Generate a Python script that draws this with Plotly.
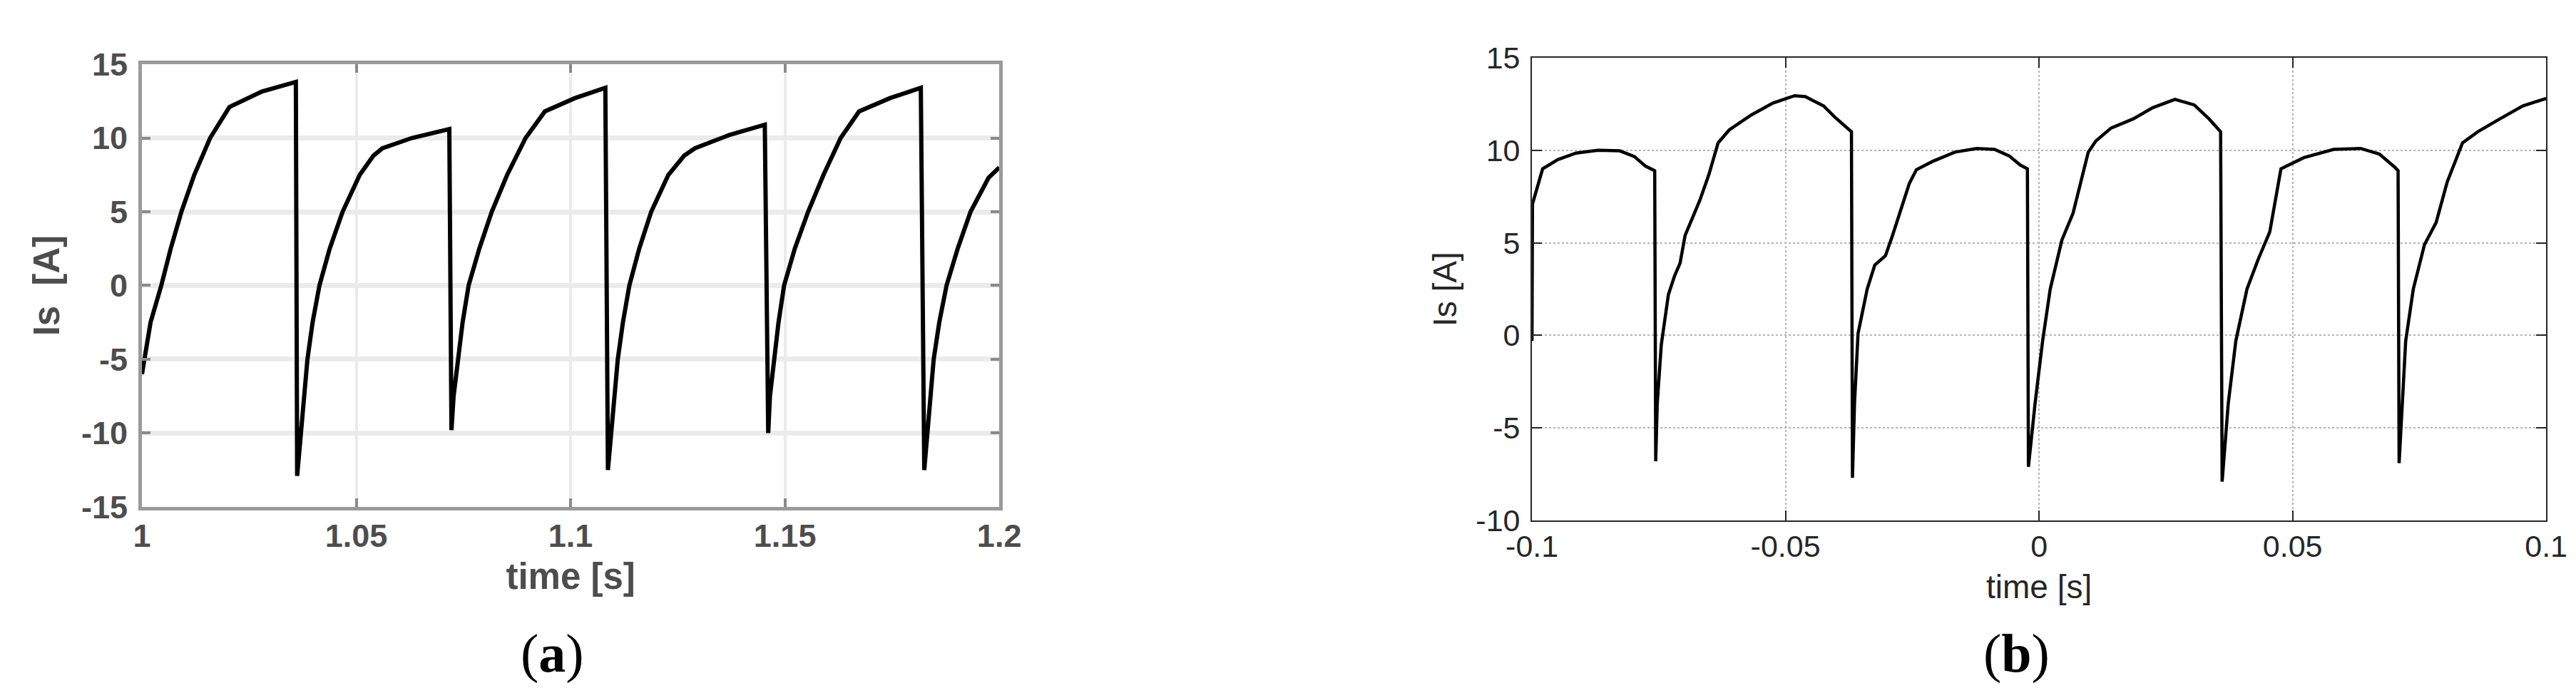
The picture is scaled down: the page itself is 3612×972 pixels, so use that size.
import plotly.graph_objects as go

# (a) simulated stator current
time_a = [1.0000, 1.0005, 1.0020, 1.0045, 1.0067, 1.0092, 1.0122, 1.0159, 1.0180, 1.0204, 1.0280, 1.0359,
          1.0362, 1.0371, 1.0377, 1.0386, 1.0398, 1.0414, 1.0438, 1.0468, 1.0508, 1.0540, 1.0561, 1.0630, 1.0717,
          1.0722, 1.0727, 1.0737, 1.0748, 1.0762, 1.0787, 1.0816, 1.0852, 1.0895, 1.0940, 1.1010, 1.1081,
          1.1087, 1.1095, 1.1101, 1.1110, 1.1122, 1.1137, 1.1160, 1.1188, 1.1228, 1.1265, 1.1290, 1.1370, 1.1453,
          1.1461, 1.1465, 1.1474, 1.1485, 1.1498, 1.1523, 1.1554, 1.1590, 1.1630, 1.1673, 1.1745, 1.1817,
          1.1825, 1.1832, 1.1838, 1.1847, 1.1860, 1.1877, 1.1903, 1.1933, 1.1975, 1.2000]
is_a = [-6.0, -5.0, -2.5, 0.0, 2.5, 5.0, 7.5, 10.0, 11.0, 12.1, 13.15, 13.8,
        -12.9, -10.0, -7.5, -5.0, -2.5, 0.0, 2.5, 5.0, 7.5, 8.8, 9.3, 10.0, 10.6,
        -9.8, -7.5, -5.0, -2.5, 0.0, 2.5, 5.0, 7.5, 10.0, 11.8, 12.7, 13.4,
        -12.5, -10.0, -7.5, -5.0, -2.5, 0.0, 2.5, 5.0, 7.5, 8.8, 9.3, 10.2, 10.9,
        -10.0, -7.5, -5.0, -2.5, 0.0, 2.5, 5.0, 7.5, 10.0, 11.8, 12.7, 13.4,
        -12.5, -10.0, -7.5, -5.0, -2.5, 0.0, 2.5, 5.0, 7.3, 8.0]

# (b) measured stator current
time_b = [-0.1, -0.0999, -0.0979, -0.0949, -0.0913, -0.0870, -0.0827, -0.0798, -0.0776, -0.0758,
          -0.0756, -0.0753, -0.0745, -0.0731, -0.0719, -0.0708, -0.0698, -0.0669, -0.0651, -0.0633,
          -0.0611, -0.0568, -0.0525, -0.0482, -0.0461, -0.0425, -0.0403, -0.0378, -0.0370,
          -0.0368, -0.0364, -0.0357, -0.0339, -0.0324, -0.0303, -0.0289, -0.0271, -0.0256, -0.0242,
          -0.0210, -0.0166, -0.0123, -0.0088, -0.0059, -0.0037, -0.0023,
          -0.0021, -0.0008, 0.0007, 0.0022, 0.0045, 0.0067, 0.0097, 0.0112, 0.0142, 0.0186,
          0.0224, 0.0268, 0.0306, 0.0335, 0.0358,
          0.0361, 0.0373, 0.0388, 0.0410, 0.0432, 0.0455, 0.0477, 0.0522, 0.0581, 0.0634,
          0.0671, 0.0701, 0.0708,
          0.0710, 0.0716, 0.0723, 0.0738, 0.0760, 0.0783, 0.0805, 0.0835, 0.0865, 0.0909,
          0.0954, 0.1]
is_b = [-0.3, 7.1, 9.0, 9.5, 9.85, 10.0, 9.97, 9.66, 9.14, 8.9,
        -6.8, -3.7, -0.5, 2.2, 3.2, 3.9, 5.4, 7.3, 8.7, 10.4,
        11.1, 11.9, 12.55, 12.95, 12.9, 12.4, 11.8, 11.2, 11.0,
        -7.7, -3.7, 0.1, 2.5, 3.8, 4.3, 5.4, 6.9, 8.2, 8.95,
        9.4, 9.9, 10.1, 10.05, 9.7, 9.2, 9.0,
        -7.1, -3.7, -0.3, 2.5, 5.15, 6.6, 9.9, 10.5, 11.2, 11.7,
        12.3, 12.75, 12.45, 11.7, 11.0,
        -7.9, -3.7, -0.3, 2.5, 4.1, 5.6, 9.0, 9.6, 10.05, 10.1,
        9.8, 9.1, 8.9,
        -6.9, -3.7, -0.3, 2.5, 4.9, 6.1, 8.3, 10.4, 11.0, 11.7,
        12.4, 12.8]

xticks_a = [1.0, 1.05, 1.1, 1.15, 1.2]
xlabels_a = ["1", "1.05", "1.1", "1.15", "1.2"]
yticks_a = [-15, -10, -5, 0, 5, 10, 15]
ylabels_a = ["-15", "-10", "-5", "0", "5", "10", "15"]
xticks_b = [-0.1, -0.05, 0, 0.05, 0.1]
xlabels_b = ["-0.1", "-0.05", "0", "0.05", "0.1"]
yticks_b = [-10, -5, 0, 5, 10, 15]
ylabels_b = ["-10", "-5", "0", "5", "10", "15"]

fig = go.Figure()
fig.add_trace(go.Scatter(x=time_a, y=is_a, mode='lines',
                         line=dict(color='black', width=6),
                         xaxis='x', yaxis='y', showlegend=False))
fig.add_trace(go.Scatter(x=time_b, y=is_b, mode='lines',
                         line=dict(color='black', width=4.5),
                         xaxis='x2', yaxis='y2', showlegend=False))

font_a = dict(family='Liberation Sans, Arial, sans-serif', size=45, color='#4d4d4d', weight='bold')
font_b = dict(family='Liberation Sans, Arial, sans-serif', size=43, color='#262626')

axis_a = dict(showline=True, linecolor='#9a9a9a', linewidth=5, mirror='ticks',
              ticks='inside', ticklen=12, tickwidth=4, tickcolor='#8a8a8a',
              showgrid=True, gridcolor='#ebebeb', zeroline=False,
              tickfont=font_a, automargin=False)
axis_b = dict(showline=True, linecolor='#262626', linewidth=2, mirror='ticks',
              ticks='inside', ticklen=14, tickwidth=2, tickcolor='#262626',
              showgrid=True, gridcolor='#b4b4b4', griddash='dot', gridwidth=1.5,
              zeroline=False, tickfont=font_b, automargin=False)

fig.update_layout(
    width=3612, height=972,
    margin=dict(l=0, r=0, t=0, b=0),
    paper_bgcolor='white', plot_bgcolor='white',
    xaxis=dict(axis_a, domain=[0.0529, 0.3857], range=[1.0, 1.2], anchor='y',
               tickvals=xticks_a, ticktext=xlabels_a, gridwidth=4, ticklabelstandoff=-3,
               title=dict(text='time [s]', font=dict(font_a, size=51), standoff=16)),
    yaxis=dict(axis_a, domain=[0.2768, 0.9156], range=[-15, 15], anchor='x',
               tickvals=yticks_a, ticktext=ylabels_a, gridwidth=7, ticklabelstandoff=6,
               title=dict(text='Is  [A]', font=dict(font_a, size=51), standoff=16)),
    xaxis2=dict(axis_b, domain=[0.5925, 0.9862], range=[-0.1, 0.1], anchor='y2',
                tickvals=xticks_b, ticktext=xlabels_b, ticklabelstandoff=-3,
                title=dict(text='time [s]', font=dict(font_b, size=46), standoff=18)),
    yaxis2=dict(axis_b, domain=[0.2572, 0.9249], range=[-10, 15], anchor='x2',
                tickvals=yticks_b, ticktext=ylabels_b, ticklabelstandoff=6,
                title=dict(text='Is [A]', font=dict(font_b, size=46), standoff=12)),
)

# captions below each panel
caption_font = dict(family='Liberation Serif, serif', size=76, color='black')
fig.add_annotation(text='(<b>a</b>)', x=766 / 3612, y=1 - 908 / 972, xref='paper', yref='paper',
                   showarrow=False, xanchor='center', yanchor='middle', font=caption_font)
fig.add_annotation(text='(<b>b</b>)', x=2819 / 3612, y=1 - 908 / 972, xref='paper', yref='paper',
                   showarrow=False, xanchor='center', yanchor='middle', font=caption_font)

fig.write_html("out.html")
